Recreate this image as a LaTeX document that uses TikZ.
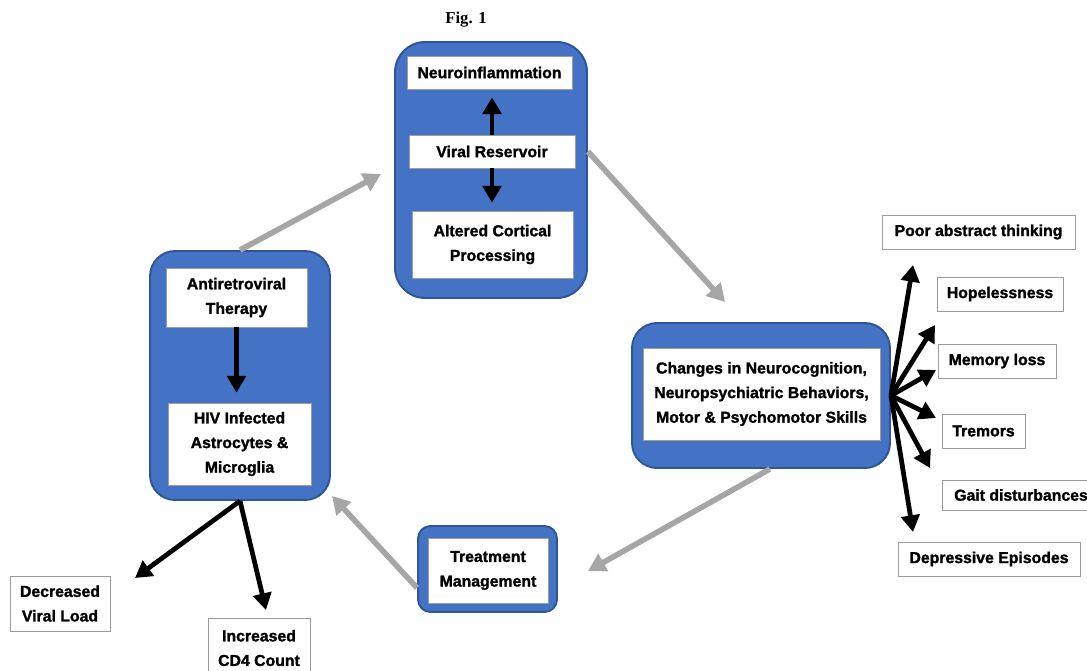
\documentclass[tikz,border=0pt]{standalone}
\usepackage{fontspec}
\setmainfont{Liberation Sans}[BoldFeatures={FakeBold=1.4}]
\newfontfamily\figfont{Liberation Serif}
\usetikzlibrary{arrows.meta,positioning}
\definecolor{hivBlue}{HTML}{4472C4}
\definecolor{hivEdge}{HTML}{2F5597}
\definecolor{hivGray}{HTML}{A6A6A6}
\definecolor{hivLine}{HTML}{9C9C9C}
\tikzset{
  hivpanel/.style={draw=hivEdge,line width=1.1pt,fill=hivBlue,
                   rounded corners=0.5cm,inner sep=0pt},
  hivbox/.style={draw=hivLine,fill=white,line width=0.4pt,align=center,
                 inner sep=0pt,font=\fontsize{9}{14}\selectfont\bfseries},
  hivarrow/.style={-{Triangle[length=9.5pt,width=10.5pt]},line width=2.7pt,black},
  hivflow/.style={-{Triangle[length=10pt,width=11pt]},line width=3.2pt,hivGray}
}
\begin{document}
\begin{tikzpicture}[x=0.02cm,y=-0.02cm]
    \useasboundingbox (0,0) rectangle (1087,671);
    \node[font=\figfont\bfseries\fontsize{9.5}{11}\selectfont] (fig) at (466,20) {Fig. 1};

    % top panel
    \node[hivpanel,minimum width=3.84cm,minimum height=5.12cm,
          rounded corners=0.6cm] (toppanel) at (491,170) {};
    \node[hivbox,minimum width=3.3cm,minimum height=0.66cm]
      (neuro) at (489.5,72.5) {Neuroinflammation};
    \node[hivbox,minimum width=3.32cm,minimum height=0.66cm]
      (viral) at (492,151.5) {Viral Reservoir};
    \node[hivbox,minimum width=3.22cm,minimum height=1.34cm]
      (altered) at (492.5,244.5) {Altered Cortical\\Processing};
    \draw[hivarrow,shorten >=0.16cm] (viral.north) -- (viral.north |- neuro.south);
    \draw[hivarrow,shorten >=0.16cm] (viral.south) -- (viral.south |- altered.north);

    % left panel
    \node[hivpanel,minimum width=3.6cm,minimum height=4.98cm]
      (leftpanel) at (240,375.5) {};
    \node[hivbox,minimum width=2.82cm,minimum height=1.18cm]
      (art) at (236.5,297.5) {Antiretroviral\\Therapy};
    \node[hivbox,minimum width=2.86cm,minimum height=1.64cm]
      (hiv) at (239.5,444) {HIV Infected\\Astrocytes \&\\Microglia};
    \draw[hivarrow,shorten >=0.2cm] (art.south) -- (art.south |- hiv.north);

    % right panel
    \node[hivpanel,minimum width=5.16cm,minimum height=2.9cm]
      (rightpanel) at (761,395.5) {};
    \node[hivbox,minimum width=4.74cm,minimum height=1.84cm]
      (changes) at (761.5,394) {Changes in Neurocognition,\\
      Neuropsychiatric Behaviors,\\Motor \& Psychomotor Skills};

    % treatment panel
    \node[hivpanel,minimum width=2.78cm,minimum height=1.72cm,
          rounded corners=0.25cm] (treatpanel) at (487.5,569) {};
    \node[hivbox,minimum width=2.4cm,minimum height=1.3cm]
      (treat) at (488,570.5) {Treatment\\Management};

    % outcomes
    \node[hivbox,minimum width=3.86cm,minimum height=0.68cm]
      (poor) at (978.5,232) {Poor abstract thinking};
    \node[hivbox,minimum width=2.52cm,minimum height=0.68cm]
      (hope) at (1000,294) {Hopelessness};
    \node[hivbox,minimum width=2.36cm,minimum height=0.68cm]
      (memory) at (997,361) {Memory loss};
    \node[hivbox,minimum width=1.66cm,minimum height=0.68cm]
      (tremors) at (983.5,431) {Tremors};
    \node[hivbox,minimum width=3.16cm,minimum height=0.6cm]
      (gait) at (1021,495) {Gait disturbances};
    \node[hivbox,minimum width=3.64cm,minimum height=0.68cm]
      (depress) at (989,559) {Depressive Episodes};
    \node[hivbox,minimum width=2.0cm,minimum height=1.1cm]
      (viralload) at (60,603.5) {Decreased\\Viral Load};
    \node[hivbox,minimum width=2.04cm,minimum height=1.2cm]
      (cdcount) at (259,648) {Increased\\CD4 Count};

    % arrow ends
    \coordinate (tpoor) at (913,265);
    \coordinate (thope) at (935,325);
    \coordinate (tmemory) at (936,370);
    \coordinate (ttremors) at (936,418);
    \coordinate (tgait) at (930,468);
    \coordinate (tdepress) at (913,532);
    \coordinate (tload) at (135,578);
    \coordinate (tcount) at (266,610);
    \coordinate (ftop) at (381,174);
    \coordinate (fright) at (725,302);
    \coordinate (ftreat) at (588,571);
    \coordinate (fleft) at (332,496);

    \foreach \t in {tpoor,thope,tmemory,ttremors,tgait,tdepress}
      \draw[hivarrow] (rightpanel.east) -- (\t);
    \draw[hivarrow] (leftpanel.south) -- (tload);
    \draw[hivarrow] (leftpanel.south) -- (tcount);

    % cycle
    \draw[hivflow] (leftpanel.north) -- (ftop);
    \draw[hivflow] (toppanel.east |- viral) -- (fright);
    \draw[hivflow] ([xshift=0.18cm]rightpanel.south) -- (ftreat);
    \draw[hivflow] (treatpanel.195) -- (fleft);
  \end{tikzpicture}
\end{document}
